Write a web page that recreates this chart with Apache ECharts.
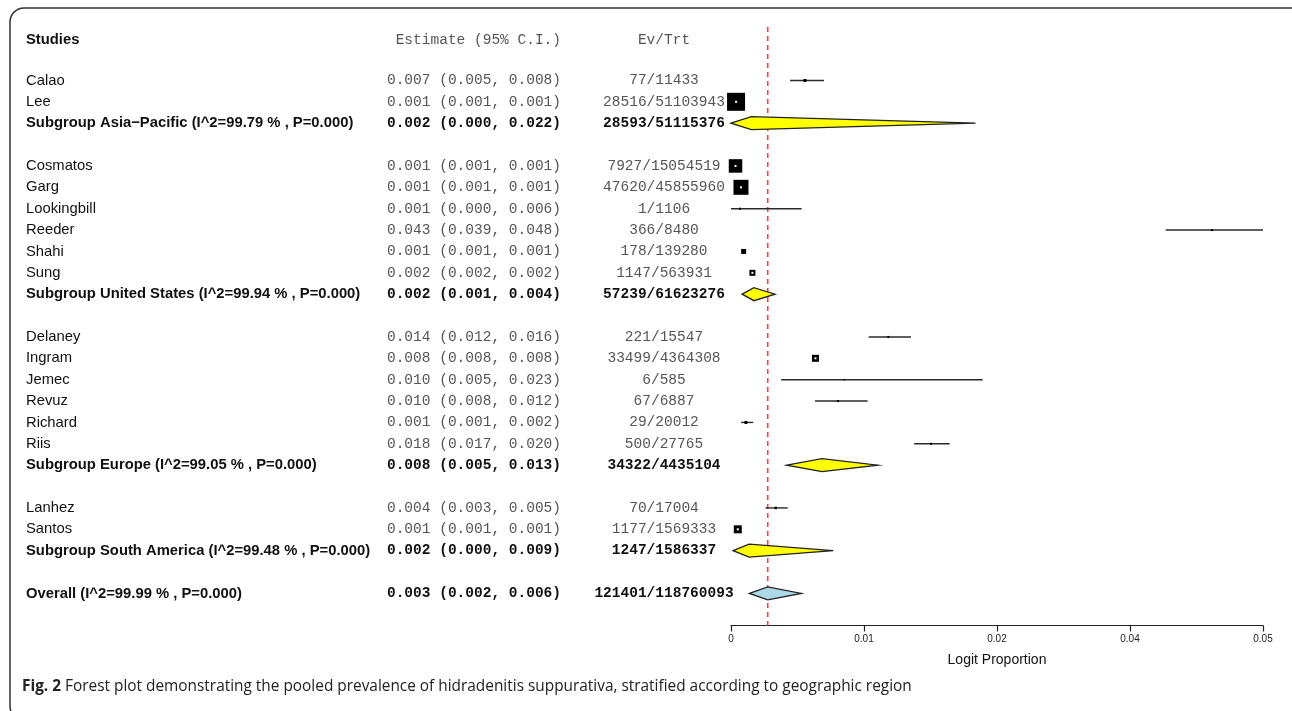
<!DOCTYPE html>
<html><head><meta charset="utf-8">
<script src="https://cdn.jsdelivr.net/npm/echarts@6/dist/echarts.min.js"></script>
<style>html,body{margin:0;padding:0;background:#fff}#c{width:1292px;height:711px}</style>
</head><body><div id="c"></div>
<script>
// ---- table rows (top to bottom, '' = blank spacer row) ----
const rowLabels = ['Studies','','Calao','Lee','Subgroup Asia\u2212Pacific (I^2=99.79 % , P=0.000)','',
  'Cosmatos','Garg','Lookingbill','Reeder','Shahi','Sung','Subgroup United States (I^2=99.94 % , P=0.000)','',
  'Delaney','Ingram','Jemec','Revuz','Richard','Riis','Subgroup Europe (I^2=99.05 % , P=0.000)','',
  'Lanhez','Santos','Subgroup South America (I^2=99.48 % , P=0.000)','',
  'Overall (I^2=99.99 % , P=0.000)',''];
const rowEstimates = ['Estimate (95% C.I.)','','0.007 (0.005, 0.008)','0.001 (0.001, 0.001)','0.002 (0.000, 0.022)','',
  '0.001 (0.001, 0.001)','0.001 (0.001, 0.001)','0.001 (0.000, 0.006)','0.043 (0.039, 0.048)','0.001 (0.001, 0.001)','0.002 (0.002, 0.002)','0.002 (0.001, 0.004)','',
  '0.014 (0.012, 0.016)','0.008 (0.008, 0.008)','0.010 (0.005, 0.023)','0.010 (0.008, 0.012)','0.001 (0.001, 0.002)','0.018 (0.017, 0.020)','0.008 (0.005, 0.013)','',
  '0.004 (0.003, 0.005)','0.001 (0.001, 0.001)','0.002 (0.000, 0.009)','',
  '0.003 (0.002, 0.006)',''];
const rowEvTrt = ['Ev/Trt','','77/11433','28516/51103943','28593/51115376','',
  '7927/15054519','47620/45855960','1/1106','366/8480','178/139280','1147/563931','57239/61623276','',
  '221/15547','33499/4364308','6/585','67/6887','29/20012','500/27765','34322/4435104','',
  '70/17004','1177/1569333','1247/1586337','',
  '121401/118760093',''];

// ---- individual studies (plotted on the axis scale) ----
const studyNames  = ['Calao','Lee','Cosmatos','Garg','Lookingbill','Reeder','Shahi','Sung','Delaney','Ingram','Jemec','Revuz','Richard','Riis','Lanhez','Santos'];
const studyPoint  = [0.00556,0.00038,0.00034,0.00075,0.00068,0.03617,0.00095,0.00161,0.01183,0.00635,0.00852,0.00805,0.00112,0.01504,0.00336,0.00051];
const studyLow    = [0.00444,0.00038,0.00034,0.00075,0.00000,0.03268,0.00095,0.00161,0.01035,0.00635,0.00377,0.00632,0.00076,0.01377,0.00259,0.00051];
const studyHigh   = [0.00699,0.00038,0.00034,0.00075,0.00531,0.04000,0.00095,0.00161,0.01353,0.00635,0.01892,0.01027,0.00167,0.01644,0.00427,0.00051];
const studyWeight = [3,18,13.5,15,2,2,5,6,2,7,1.5,2,3,2,2.5,8];

// ---- pooled estimates ----
const summaryNames = ['Subgroup Asia\u2212Pacific (I^2=99.79 % , P=0.000)','Subgroup United States (I^2=99.94 % , P=0.000)','Subgroup Europe (I^2=99.05 % , P=0.000)','Subgroup South America (I^2=99.48 % , P=0.000)','Overall (I^2=99.99 % , P=0.000)'];
const summaryPoint = [0.00153,0.00172,0.00684,0.00136,0.00276];
const summaryLow   = [0.00000,0.00084,0.00419,0.00016,0.00139];
const summaryHigh  = [0.01838,0.00331,0.01104,0.00769,0.00529];

// ---- x axis ----
const tickLabels = ['0','0.01','0.02','0.04','0.05'];
const xMin = 0, xMax = 0.04, xStep = 0.01;
const refLine = summaryPoint[4];

const rowIndex = n => rowLabels.indexOf(n);
const isBold = i => i === 0 || /^(Subgroup|Overall)/.test(rowLabels[i]);

const chart = echarts.init(document.getElementById('c'), null, {renderer:'canvas'});

const textData = rowLabels.map((l,i)=>[0,i]).filter(d => rowLabels[d[1]] !== '');
const ciData = studyNames.map((n,k)=>[studyLow[k], studyHigh[k], rowIndex(n)]).filter(d=>d[1]>d[0]);
const boxData = studyNames.map((n,k)=>[studyPoint[k], rowIndex(n), studyWeight[k]]);
const dotData = boxData.filter(d=>d[2]>5);
const diaData = summaryNames.map((n,k)=>[summaryLow[k], summaryPoint[k], summaryHigh[k], rowIndex(n), k===4?1:0]);

const option = {
  animation: false,
  backgroundColor: '#fff',
  grid: {left: 731, width: 532, top: 27, height: 598.5},
  xAxis: {
    type:'value', min:xMin, max:xMax, interval:xStep, position:'bottom',
    axisLine:{show:true, onZero:false, lineStyle:{color:'#222', width:1.2}},
    axisTick:{show:true, length:6, lineStyle:{color:'#222', width:1.2}},
    axisLabel:{fontSize:10, color:'#222', margin:9, fontFamily:'Liberation Sans, Arial',
      formatter: v => tickLabels[Math.round(v/xStep)]},
    splitLine:{show:false},
    name:'Logit Proportion', nameLocation:'middle', nameGap:28,
    nameTextStyle:{fontSize:14, color:'#111', fontFamily:'Liberation Sans, Arial'}
  },
  yAxis: {
    type:'value', inverse:true, min:-0.5, max:rowLabels.length - 0.5,
    show:false, splitLine:{show:false}
  },
  graphic: [
    {type:'rect', shape:{x:10, y:8, width:1300, height:712, r:14}, style:{fill:'none', stroke:'#333', lineWidth:1.5}, silent:true},
    {type:'text', x:22, y:687, style:{text:'{b|Fig. 2} Forest plot demonstrating the pooled prevalence of hidradenitis suppurativa, stratified according to geographic region',
      rich:{b:{fontWeight:'bold', fontSize:15.4, fontFamily:'Open Sans', fill:'#222'}},
      fontSize:15.4, fontFamily:'Open Sans', fill:'#222', verticalAlign:'middle'}}
  ],
  series: [
    {
      type:'custom', name:'table', data:textData, clip:false, silent:true,
      renderItem:(params, api) => {
        const i = api.value(1);
        const y = api.coord([0, i])[1] + (i === 0 ? 2 : 0);
        const b = isBold(i);
        const head = i === 0;
        return {type:'group', children:[
          {type:'text', x:26, y:y, style:{text:rowLabels[i], fontSize:14.8, fontWeight:b?'bold':'normal', fontFamily:'Liberation Sans, Arial', fill:'#111', align:'left', verticalAlign:'middle'}},
          {type:'text', x:561, y:y, style:{text:rowEstimates[i], fontSize:14.5, fontWeight:(b&&!head)?'bold':'normal', fontFamily:'Liberation Mono, monospace', fill:(b&&!head)?'#111':'#555', align:'right', verticalAlign:'middle'}},
          {type:'text', x:664, y:y, style:{text:rowEvTrt[i], fontSize:14.5, fontWeight:(b&&!head)?'bold':'normal', fontFamily:'Liberation Mono, monospace', fill:(b&&!head)?'#111':'#555', align:'center', verticalAlign:'middle'}}
        ]};
      }
    },
    {
      type:'custom', name:'ci', data:ciData, clip:false, encode:{x:[0,1], y:2},
      renderItem:(params, api) => {
        const p1 = api.coord([api.value(0), api.value(2)]);
        const p2 = api.coord([api.value(1), api.value(2)]);
        return {type:'line', shape:{x1:p1[0], y1:p1[1], x2:p2[0], y2:p2[1]}, style:{stroke:'#2a2a2a', lineWidth:1.4}};
      }
    },
    {
      type:'line', name:'reference', data:[[refLine, -0.5],[refLine, rowLabels.length - 0.5]],
      showSymbol:false, symbol:'none', silent:true, z:1,
      lineStyle:{color:'#ff3b3b', type:[5,4], width:1.6}
    },
    {
      type:'scatter', name:'box', data:boxData, symbol:'rect',
      symbolSize: d => d[2], itemStyle:{color:'#000', opacity:1}, z:3
    },
    {
      type:'scatter', name:'centre', data:dotData, symbol:'rect',
      symbolSize: 2, itemStyle:{color:'#fff', opacity:1}, z:4
    },
    {
      type:'custom', name:'diamond', data:diaData, clip:false, encode:{x:[0,1,2], y:3}, z:5,
      renderItem:(params, api) => {
        const r = api.value(3);
        const a = api.coord([api.value(0), r]);
        const m = api.coord([api.value(1), r]);
        const c = api.coord([api.value(2), r]);
        const h = 6.5;
        return {type:'polygon', shape:{points:[[a[0],a[1]],[m[0],m[1]-h],[c[0],c[1]],[m[0],m[1]+h]]},
          style:{fill: api.value(4) ? '#add8e6' : '#ffff00', stroke:'#222', lineWidth:1.3}};
      }
    }
  ]
};
chart.setOption(option);
</script></body></html>
